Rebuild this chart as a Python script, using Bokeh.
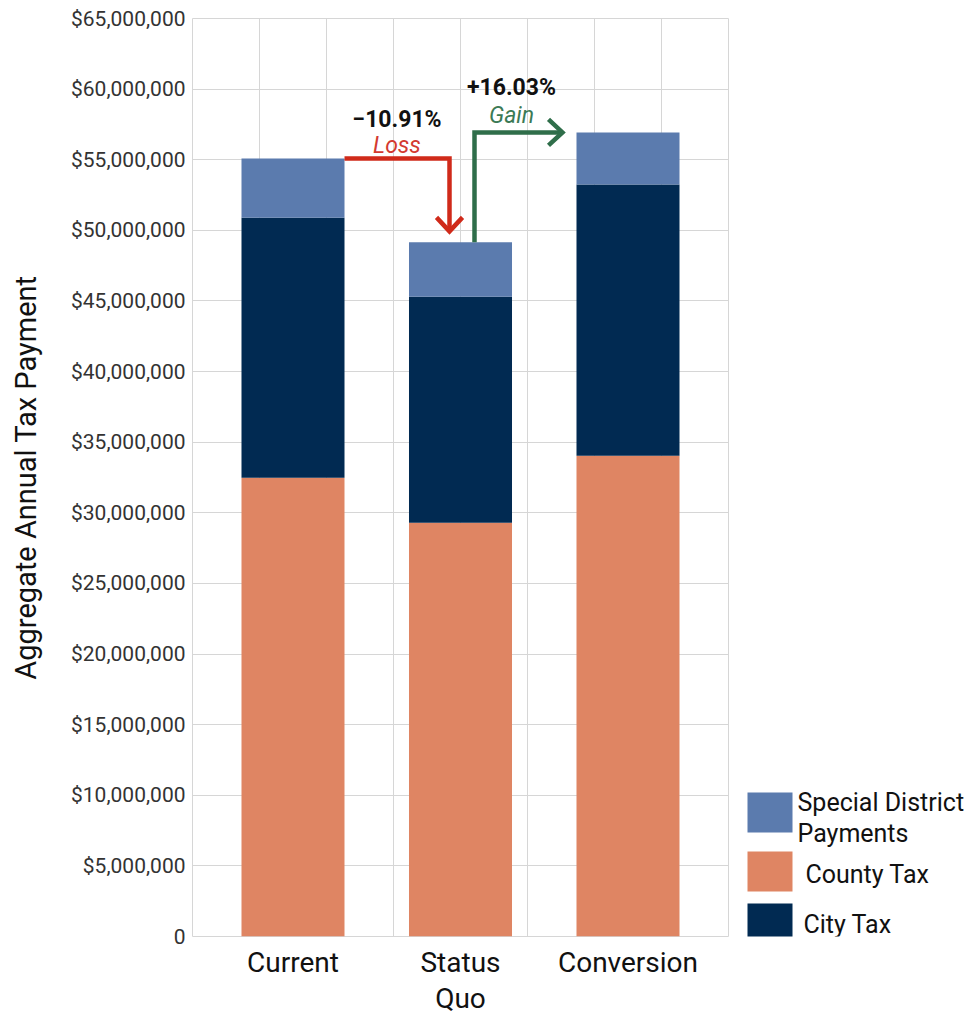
from bokeh.plotting import figure
from bokeh.models import Range1d, FixedTicker, NumeralTickFormatter
from bokeh.layouts import row
from bokeh.embed import file_html
from bokeh.resources import INLINE
from bokeh.core.properties import value

# ---------------- data ----------------
categories = ["Current", "Status\nQuo", "Conversion"]
county_tax = [32.49e6, 29.30e6, 34.04e6]
city_tax = [18.41e6, 16.00e6, 19.20e6]
special_district = [4.18e6, 3.85e6, 3.69e6]
change_labels = ["\u221210.91%", "+16.03%"]
change_words = ["Loss", "Gain"]
legend_labels = ["Special District\nPayments", "County Tax", "City Tax"]
y_ticks = list(range(0, 65_000_001, 5_000_000))

# ---------------- style ----------------
FONT = "Roboto"
C_SPECIAL = "#5b7bae"
C_COUNTY = "#df8563"
C_CITY = "#012a52"
RED = "#d02a1a"
GREEN = "#2f6e4a"
GRID = "#d6d6d6"
BASE_FIX = 7  # px correction for alphabetic baseline placement

xs = [1, 2, 3]
bar_w = 0.615
X0, X1 = 0.4, 3.6
YMAX = 65e6
FRAME_L, FRAME_T, FRAME_R, FRAME_B = 192, 18, 728, 936
MAIN_W, H = 738, 1017
FRAME_W, FRAME_H = FRAME_R - FRAME_L, FRAME_B - FRAME_T
PX = (X1 - X0) / FRAME_W
PY = YMAX / FRAME_H

p = figure(width=MAIN_W, height=H, x_range=Range1d(X0, X1), y_range=Range1d(0, YMAX),
           output_backend="svg", toolbar_location=None,
           min_border_left=FRAME_L, min_border_right=MAIN_W - FRAME_R,
           min_border_top=FRAME_T, min_border_bottom=H - FRAME_B)
p.outline_line_color = GRID
p.background_fill_color = "white"

# grids
p.xgrid.ticker = FixedTicker(ticks=[X0 + 0.4 * i for i in range(9)])
p.yaxis.ticker = FixedTicker(ticks=y_ticks)
for g in (p.xgrid, p.ygrid):
    g.grid_line_color = GRID
    g.grid_line_width = 1

# y axis
ya = p.yaxis[0]
ya.formatter = NumeralTickFormatter(format="$0,0")
ya.major_label_overrides = {0: "0"}
ya.axis_line_color = None
ya.major_tick_line_color = None
ya.minor_tick_line_color = None
ya.major_tick_out = 0
ya.major_tick_in = 0
ya.major_label_standoff = 7
ya.major_label_text_font = FONT
ya.major_label_text_font_size = "21px"
ya.major_label_text_color = "#333333"
ya.axis_label = "Aggregate Annual Tax Payment"
ya.axis_label_text_font = FONT
ya.axis_label_text_font_size = "29px"
ya.axis_label_text_font_style = "normal"
ya.axis_label_text_color = "#111111"
ya.axis_label_standoff = 25

# x axis
xa = p.xaxis[0]
xa.ticker = FixedTicker(ticks=xs)
xa.major_label_overrides = {x: c for x, c in zip(xs, categories)}
xa.axis_line_color = None
xa.major_tick_line_color = None
xa.minor_tick_line_color = None
xa.major_tick_out = 0
xa.major_tick_in = 0
xa.major_label_standoff = 9
xa.major_label_text_font = FONT
xa.major_label_text_font_size = "28px"
xa.major_label_text_line_height = 1.1
xa.major_label_text_color = "#111111"

# stacked bars
bottom_city = county_tax
bottom_special = [a + b for a, b in zip(county_tax, city_tax)]
totals = [a + b + c for a, b, c in zip(county_tax, city_tax, special_district)]

p.vbar(x=xs, width=bar_w, bottom=0, top=county_tax, fill_color=C_COUNTY, line_color=None)
p.vbar(x=xs, width=bar_w, bottom=bottom_city, top=bottom_special, fill_color=C_CITY, line_color=None)
p.vbar(x=xs, width=bar_w, bottom=bottom_special, top=totals, fill_color=C_SPECIAL, line_color=None)

# loss arrow (Current -> Status Quo)
lx0 = xs[0] + bar_w / 2
lx1 = xs[1] - 11 * PX
ly0 = totals[0]
ly1 = totals[1] + 11 * PY
p.line([lx0, lx1, lx1], [ly0, ly0, ly1], line_color=RED, line_width=4.5, line_join="miter")
p.line([lx1 - 13 * PX, lx1, lx1 + 13 * PX], [ly1 + 14 * PY, ly1, ly1 + 14 * PY],
       line_color=RED, line_width=4.5, line_join="miter")

# gain arrow (Status Quo -> Conversion)
gx0 = xs[1] + 14 * PX
gy0 = totals[1]
gy1 = totals[2]
gx1 = xs[2] - bar_w / 2 - 14 * PX
p.line([gx0, gx0, gx1], [gy0, gy1, gy1], line_color=GREEN, line_width=4.5, line_join="miter")
p.line([gx1 - 14 * PX, gx1, gx1 - 14 * PX], [gy1 + 13 * PY, gy1, gy1 - 13 * PY],
       line_color=GREEN, line_width=4.5, line_join="miter")

# annotation texts
tx_loss = (lx0 + lx1) / 2
tx_gain = gx0 + 37 * PX
p.text(x=[tx_loss, tx_gain], y=[ly0 + (32 + BASE_FIX) * PY, gy1 + (38 + BASE_FIX) * PY],
       text=change_labels,
       text_font=value(FONT), text_font_size="23px", text_font_style="bold",
       text_color="#111111", text_align="center", text_baseline="alphabetic")
p.text(x=[tx_loss], y=[ly0 + (6 + BASE_FIX) * PY], text=[change_words[0]],
       text_font=value(FONT), text_font_size="23px", text_font_style="italic",
       text_color="#d33a30", text_align="center", text_baseline="alphabetic")
p.text(x=[tx_gain], y=[gy1 + (10 + BASE_FIX) * PY], text=[change_words[1]],
       text_font=value(FONT), text_font_size="23px", text_font_style="italic",
       text_color="#3b7a55", text_align="center", text_baseline="alphabetic")

# ---------------- legend panel (frame aligned with main frame; data = canvas px) ----------------
LW = 237
lg = figure(width=LW, height=H, x_range=Range1d(0, LW), y_range=Range1d(FRAME_B, FRAME_T),
            output_backend="svg", toolbar_location=None,
            min_border_left=0, min_border_right=0,
            min_border_top=FRAME_T, min_border_bottom=H - FRAME_B)
lg.axis.visible = False
lg.grid.visible = False
lg.outline_line_color = None

legend_colors = [C_SPECIAL, C_COUNTY, C_CITY]
sq_top = [792, 851, 903]
sq_h = 40
text_x = [59, 67, 65]
text_base = [809, 881, 931]
lg.quad(left=[9] * 3, right=[54] * 3, top=sq_top, bottom=[t + sq_h for t in sq_top],
        fill_color=legend_colors, line_color=None)
tx, ty, tt = [], [], []
for lab, x0, b in zip(legend_labels, text_x, text_base):
    for k, line in enumerate(lab.split("\n")):
        tx.append(x0)
        ty.append(b + 31 * k - BASE_FIX)
        tt.append(line)
lg.text(x=tx, y=ty, text=tt, text_font=value(FONT), text_font_size="25px",
        text_color="#111111", text_align="left", text_baseline="alphabetic")

layout = row(p, lg)
open("out.html", "w").write(file_html(layout, INLINE))
